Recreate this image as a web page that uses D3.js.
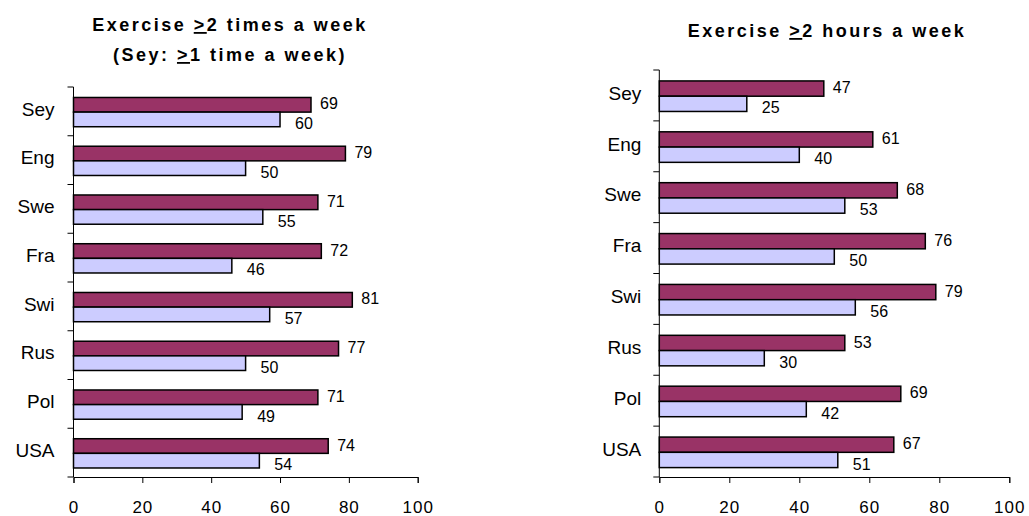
<!DOCTYPE html>
<html>
<head>
<meta charset="utf-8">
<script src="https://cdn.jsdelivr.net/npm/d3@7"></script>
<style>
  body { margin: 0; background: #fff; }
  svg { font-family: "Liberation Sans", Arial, sans-serif; }
  .title { font-weight: bold; font-size: 18px; letter-spacing: 2.5px; }
  .axis text { fill: #000; font-family: "Liberation Sans", Arial, sans-serif; }
  .x-axis text { font-size: 17px; letter-spacing: 1px; }
  .y-axis text { font-size: 19px; }
  .axis path, .axis line { stroke: #000; }
  .val { font-size: 16px; fill: #000; }
</style>
</head>
<body>
<div id="chart"></div>
<script>
var countries = ['Sey', 'Eng', 'Swe', 'Fra', 'Swi', 'Rus', 'Pol', 'USA']
var ticks = [0, 20, 40, 60, 80, 100]

// left panel: >2 times a week
var timesDark = [69, 79, 71, 72, 81, 77, 71, 74]
var timesLight = [60, 50, 55, 46, 57, 50, 49, 54]

// right panel: >2 hours a week
var hoursDark = [47, 61, 68, 76, 79, 53, 69, 67]
var hoursLight = [25, 40, 53, 50, 56, 30, 42, 51]

var colors = { dark: '#993366', light: '#CCCCFF' }

var svg = d3.select('#chart').append('svg')
  .attr('width', 1029)
  .attr('height', 516)

function panel (opt) {
  var x = d3.scaleLinear().domain([0, 100]).range([opt.x0, opt.x1])
  var y = d3.scaleBand().domain(countries).range([opt.y0, opt.y1])
  var bw = y.bandwidth()
  var g = svg.append('g')

  // titles
  opt.title.forEach(function (line, i) {
    var t = g.append('text')
      .classed('title', true)
      .attr('x', opt.tx)
      .attr('y', opt.ty + i * 30)
      .attr('text-anchor', 'middle')
    t.append('tspan').text(line[0])
    t.append('tspan').text('>').style('text-decoration', 'underline')
    t.append('tspan').text(line[1])
  })

  // x axis
  g.append('g')
    .attr('class', 'axis x-axis')
    .attr('transform', 'translate(0,' + opt.y1 + ')')
    .call(d3.axisBottom(x).tickValues(ticks).tickSizeOuter(0).tickSize(6).tickPadding(18))

  // y axis: labels at band centers, ticks at band edges
  var ya = g.append('g')
    .attr('class', 'axis y-axis')
    .attr('transform', 'translate(' + opt.x0 + ',0)')
    .call(d3.axisLeft(y).tickSize(0).tickPadding(opt.lp))
  ya.select('.domain').remove()
  ya.selectAll('.tick text').attr('dy', '0.22em')

  g.append('line')
    .attr('x1', opt.x0).attr('x2', opt.x0)
    .attr('y1', opt.y0).attr('y2', opt.y1)
    .attr('stroke', '#000')
  var edges = countries.map(function (c) { return y(c) }).concat([opt.y1])
  g.selectAll('.ytick').data(edges).enter()
    .append('line')
    .attr('x1', opt.x0 - 6).attr('x2', opt.x0)
    .attr('y1', function (d) { return d }).attr('y2', function (d) { return d })
    .attr('stroke', '#000')

  var series = [
    { vals: opt.dark, color: colors.dark, off: 0.215, gap: 9, dy: -1 },
    { vals: opt.light, color: colors.light, off: 0.515, gap: 15, dy: 4 }
  ]
  series.forEach(function (s) {
    g.selectAll(null).data(s.vals).enter()
      .append('rect')
      .attr('x', x(0))
      .attr('y', function (d, i) { return y(countries[i]) + bw * s.off })
      .attr('width', function (d) { return x(d) - x(0) })
      .attr('height', bw * 0.3)
      .attr('fill', s.color)
      .attr('stroke', '#000')
      .attr('stroke-width', 1.5)

    g.selectAll(null).data(s.vals).enter()
      .append('text')
      .classed('val', true)
      .attr('x', function (d) { return x(d) + s.gap })
      .attr('y', function (d, i) { return y(countries[i]) + bw * (s.off + 0.15) + s.dy })
      .attr('dy', '0.35em')
      .text(function (d) { return d })
  })
}

panel({
  x0: 73.5, x1: 417.7, y0: 87, y1: 477,
  lp: 19, tx: 230, ty: 31,
  title: [['Exercise ', '2 times a week'], ['(Sey: ', '1 time a week)']],
  dark: timesDark, light: timesLight
})

panel({
  x0: 659.3, x1: 1009.3, y0: 70, y1: 477,
  lp: 18, tx: 827, ty: 37,
  title: [['Exercise ', '2 hours a week']],
  dark: hoursDark, light: hoursLight
})
</script>
</body>
</html>
